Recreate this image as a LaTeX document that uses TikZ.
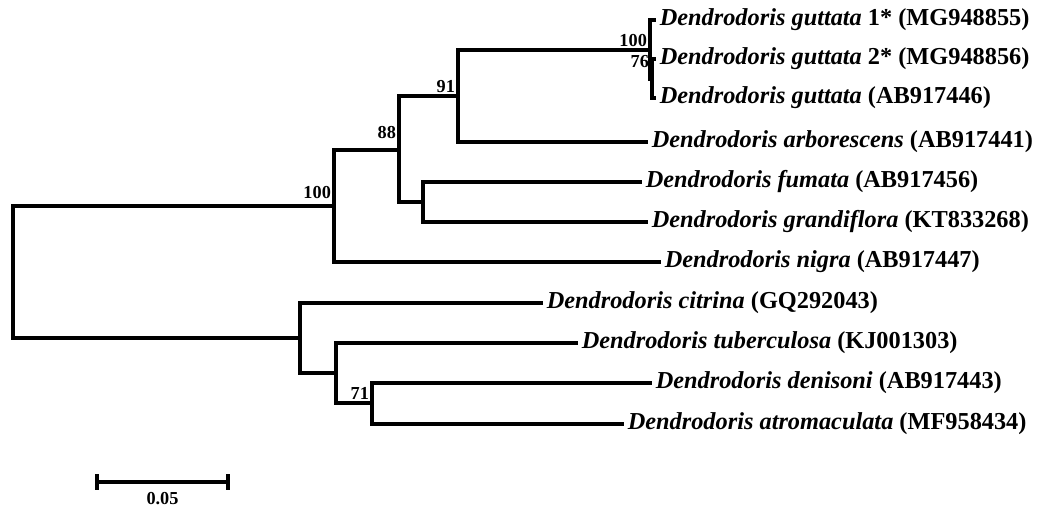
\documentclass[tikz,border=0pt]{standalone}
\usepackage{fontspec}
\setmainfont{Liberation Serif}
\usetikzlibrary{calc}

\newcommand{\gen}{Dendrodoris}
\newcommand{\tick}{8}

\begin{document}
\begin{tikzpicture}[x=0.025cm,y=-0.025cm,
	branch/.style={line width=2.3pt,line join=miter},
	taxon/.style={anchor=west,inner sep=2.5pt,font=\fontsize{17.3}{19}\selectfont\bfseries},
	boot/.style={anchor=south east,inner sep=2pt,font=\fontsize{13}{15}\selectfont\bfseries}]
	\useasboundingbox (0,0) rectangle (1037,508);
	%The internal nodes of the tree
	\coordinate (root) at (13,272);
	\coordinate (nA) at (334,206);
	\coordinate (nB) at (399,150);
	\coordinate (nC) at (458,96);
	\coordinate (nD) at (650,50);
	\coordinate (nE) at (652,79);
	\coordinate (nF) at (423,202);
	\coordinate (nG) at (300,338);
	\coordinate (nH) at (336,373);
	\coordinate (nI) at (372,403);
	%The tips
	\coordinate (gut1) at (656,20);
	\coordinate (gut2) at (656,59);
	\coordinate (gut3) at (656,98);
	\coordinate (arb) at (648,142);
	\coordinate (fum) at (642,182);
	\coordinate (gra) at (648,222);
	\coordinate (nig) at (661,262);
	\coordinate (cit) at (543,303);
	\coordinate (tub) at (578,343);
	\coordinate (den) at (652,383);
	\coordinate (atr) at (624,424);
	%Draw the branches
	\begin{scope}[branch]
		\draw (root) |- (nA);
		\draw (root) |- (nG);
		\draw (nA) |- (nB);
		\draw (nA) |- (nig);
		\draw (nB) |- (nC);
		\draw (nB) |- (nF);
		\draw (nC) |- (nD);
		\draw (nC) |- (arb);
		\draw (nD) |- (gut1);
		\draw (nD) |- (nE);
		\draw (nE) |- (gut2);
		\draw (nE) |- (gut3);
		\draw (nF) |- (fum);
		\draw (nF) |- (gra);
		\draw (nG) |- (cit);
		\draw (nG) |- (nH);
		\draw (nH) |- (tub);
		\draw (nH) |- (nI);
		\draw (nI) |- (den);
		\draw (nI) |- (atr);
	\end{scope}
	%Draw the taxon names
	\node[taxon] (Lgut1) at (gut1) {\textit{\gen\ guttata} 1* (MG948855)};
	\node[taxon] (Lgut2) at (gut2) {\textit{\gen\ guttata} 2* (MG948856)};
	\node[taxon] (Lgut3) at (gut3) {\textit{\gen\ guttata} (AB917446)};
	\node[taxon] (Larb) at (arb) {\textit{\gen\ arborescens} (AB917441)};
	\node[taxon] (Lfum) at (fum) {\textit{\gen\ fumata} (AB917456)};
	\node[taxon] (Lgra) at (gra) {\textit{\gen\ grandiflora} (KT833268)};
	\node[taxon] (Lnig) at (nig) {\textit{\gen\ nigra} (AB917447)};
	\node[taxon] (Lcit) at (cit) {\textit{\gen\ citrina} (GQ292043)};
	\node[taxon] (Ltub) at (tub) {\textit{\gen\ tuberculosa} (KJ001303)};
	\node[taxon] (Lden) at (den) {\textit{\gen\ denisoni} (AB917443)};
	\node[taxon] (Latr) at (atr) {\textit{\gen\ atromaculata} (MF958434)};
	%Draw the bootstrap values
	\node[boot] (bA) at (nA) [yshift=3pt] {100};
	\node[boot] (bB) at (nB) [yshift=6pt] {88};
	\node[boot] (bC) at (nC) {91};
	\node[boot] (bD) at (nD) {100};
	\node[boot] (bE) at (nE) [yshift=6pt] {76};
	\node[boot] (bI) at (nI) {71};
	%Draw the scale bar
	\coordinate (sb0) at (97,482);
	\coordinate (sb1) at (228,482);
	\draw[branch] (sb0) -- (sb1);
	\draw[branch] (sb0) ++(0,-\tick) -- ++(0,2*\tick);
	\draw[branch] (sb1) ++(0,-\tick) -- ++(0,2*\tick);
	\node[boot,anchor=north,inner sep=1pt] (sbl) at ($(sb0)!.5!(sb1)$) [yshift=-6pt] {0.05};
\end{tikzpicture}
\end{document}
